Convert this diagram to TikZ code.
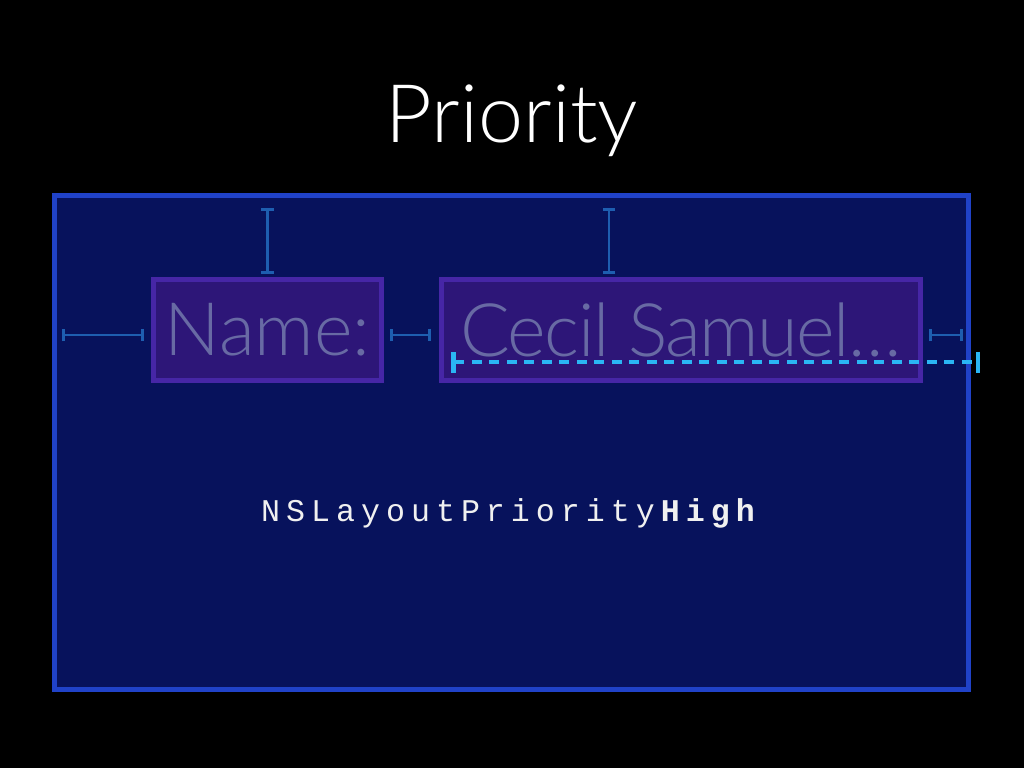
\documentclass[tikz,border=0pt]{standalone}
\usepackage{fontspec}
\setmainfont{Lato}
\newfontfamily\thinfont{Lato Light}
\newfontfamily\codefont{Liberation Mono}[LetterSpace=19]
\usetikzlibrary{arrows.meta}

\definecolor{framefill}{RGB}{7,18,92}
\definecolor{frameedge}{RGB}{32,66,200}
\definecolor{fieldfill}{RGB}{45,22,120}
\definecolor{fieldedge}{RGB}{70,38,166}
\definecolor{fieldtext}{RGB}{104,106,164}
\definecolor{strutblue}{RGB}{30,94,176}
\definecolor{growcyan}{RGB}{42,182,244}

\begin{document}
\begin{tikzpicture}[x=0.02cm,y=-0.02cm,
	frame/.style={draw=frameedge, fill=framefill, line width=0.11cm, inner sep=0pt,
		minimum width=18.28cm, minimum height=9.88cm},
	field/.style={draw=fieldedge, fill=fieldfill, line width=0.1cm, inner sep=0pt,
		minimum height=2.02cm, text=fieldtext, font=\thinfont\fontsize{42}{42}\selectfont},
	strut/.style={line width=0.055cm, strutblue, {Bar[width=0.25cm]}-{Bar[width=0.25cm]}},
	growline/.style={line width=0.09cm, growcyan, dash pattern=on 0.2cm off 0.15cm,
		{Bar[width=0.42cm]}-{Bar[width=0.42cm]}},
	]

	%% black slide
	\fill[black] (0,0) rectangle (1024,768);
	\useasboundingbox (0,0) rectangle (1024,768);

	\node[anchor=base, text=white, font=\thinfont\fontsize{46}{46}\selectfont] (title) at (512,142) {Priority};

	%% window and its two fields
	\node[frame] (frame) at (511.5,442.5) {};
	\node[field, minimum width=4.56cm] (name) at (267.5,330) {Name:};
	\node[field, minimum width=9.58cm] (value) at (681,330)
		{\addfontfeature{LetterSpace=-2}Cecil Samuel…};

	%% constraints
	\draw[strut, shorten <=0.3cm, shorten >=0.06cm] (name.north |- frame.north) -- (name.north);
	\draw[strut, shorten <=0.3cm, shorten >=0.06cm]
		([xshift=-1.44cm]value.north |- frame.north) -- ([xshift=-1.44cm]value.north);
	\draw[strut, shorten <=0.2cm, shorten >=0.15cm]
		([yshift=-0.1cm]frame.west |- name.west) -- ([yshift=-0.1cm]name.west);
	\draw[strut, shorten <=0.12cm, shorten >=0.16cm]
		([yshift=-0.1cm]name.east) -- ([yshift=-0.1cm]value.west);
	\draw[strut, shorten <=0.12cm, shorten >=0.16cm]
		([yshift=-0.1cm]value.east) -- ([yshift=-0.1cm]frame.east |- value.east);

	%% the field wants to grow
	\coordinate (reach) at (980,362);
	\draw[growline] ([xshift=0.24cm]value.west |- reach) -- (reach);

	\node[anchor=base, text=white!94!black, font=\codefont\fontsize{18}{18}\selectfont] (prio)
		at (511,521) {NSLayoutPriority\textbf{High}};

\end{tikzpicture}
\end{document}
